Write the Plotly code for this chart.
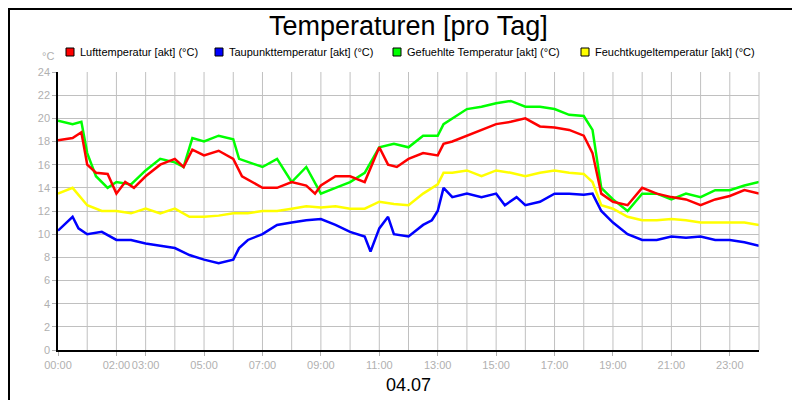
import plotly.graph_objects as go

hours_red = [0,0.5,0.8,1,1.3,1.7,2,2.3,2.6,3,3.5,4,4.3,4.6,5,5.5,6,6.3,7,7.5,8,8.5,8.8,9,9.5,10,10.5,11,11.3,11.6,12,12.5,13,13.2,13.5,14,14.5,15,15.5,16,16.5,17,17.5,18,18.3,18.6,19,19.5,20,20.5,21,21.5,22,22.5,23,23.5,24]
luft = [18.1,18.3,18.8,16,15.3,15.2,13.5,14.5,14,15,16,16.5,15.8,17.3,16.8,17.2,16.5,15,14,14,14.5,14.2,13.5,14.2,15,15,14.5,17.5,16,15.8,16.5,17,16.8,17.8,18,18.5,19,19.5,19.7,20,19.3,19.2,19,18.5,17,13.5,12.8,12.5,14,13.5,13.2,13,12.5,13,13.3,13.8,13.5]

hours_green = [0,0.5,0.8,1,1.3,1.7,2,2.5,3,3.5,4,4.3,4.6,5,5.5,6,6.2,7,7.5,8,8.5,9,9.5,10,10.5,11,11.5,12,12.5,13,13.2,13.5,14,14.5,15,15.5,16,16.5,17,17.5,18,18.3,18.6,19,19.5,20,20.5,21,21.5,22,22.5,23,23.5,24]
gefuehlt = [19.8,19.5,19.7,17,15,14,14.5,14.3,15.5,16.5,16.2,15.8,18.3,18,18.5,18.2,16.5,15.8,16.5,14.5,15.8,13.5,14,14.5,15.3,17.5,17.8,17.5,18.5,18.5,19.5,20,20.8,21,21.3,21.5,21,21,20.8,20.3,20.2,19,14,13,12,13.5,13.5,13,13.5,13.2,13.8,13.8,14.2,14.5]

hours_yellow = [0,0.5,1,1.5,2,2.5,3,3.5,4,4.5,5,5.5,6,6.5,7,7.5,8,8.5,9,9.5,10,10.5,11,11.5,12,12.5,13,13.2,13.5,14,14.5,15,15.5,16,16.5,17,17.5,18,18.3,18.6,19,19.5,20,20.5,21,21.5,22,22.5,23,23.5,24]
feucht = [13.5,14,12.5,12,12,11.8,12.2,11.8,12.2,11.5,11.5,11.6,11.8,11.8,12,12,12.2,12.4,12.3,12.4,12.2,12.2,12.8,12.6,12.5,13.5,14.3,15.3,15.3,15.5,15,15.5,15.3,15,15.3,15.5,15.3,15.2,14.5,12.5,12.2,11.5,11.2,11.2,11.3,11.2,11,11,11,11,10.8]

hours_blue = [0,0.5,0.7,1,1.5,2,2.5,3,3.5,4,4.5,5,5.5,6,6.2,6.5,7,7.5,8,8.5,9,9.5,10,10.5,10.7,11,11.3,11.5,12,12.5,12.8,13,13.2,13.5,14,14.5,15,15.3,15.7,16,16.5,17,17.5,18,18.3,18.6,19,19.5,20,20.5,21,21.5,22,22.5,23,23.5,24]
taupunkt = [10.3,11.5,10.5,10,10.2,9.5,9.5,9.2,9,8.8,8.2,7.8,7.5,7.8,8.8,9.5,10,10.8,11,11.2,11.3,10.8,10.2,9.8,8.5,10.5,11.5,10,9.8,10.8,11.2,12,14,13.2,13.5,13.2,13.5,12.5,13.2,12.5,12.8,13.5,13.5,13.4,13.5,12,11,10,9.5,9.5,9.8,9.7,9.8,9.5,9.5,9.3,9]

tick_vals = [0,2,3,5,7,9,11,13,15,17,19,21,23]
tick_text = ["00:00","02:00","03:00","05:00","07:00","09:00","11:00","13:00","15:00","17:00","19:00","21:00","23:00"]

series = [
    ("Lufttemperatur [akt] (°C)", hours_red, luft, "#ff0000"),
    ("Taupunkttemperatur [akt] (°C)", hours_blue, taupunkt, "#0000ff"),
    ("Gefuehlte Temperatur [akt] (°C)", hours_green, gefuehlt, "#00ff00"),
    ("Feuchtkugeltemperatur [akt] (°C)", hours_yellow, feucht, "#ffff00"),
]

L, T, W, H = 50, 64, 701, 278
def px(x): return (x - L) / W
def py(y): return (T + H - y) / H

fig = go.Figure()
for idx in [3, 2, 0, 1]:
    name, x, y, c = series[idx]
    fig.add_trace(go.Scatter(x=x, y=y, mode="lines", name=name, line=dict(color=c, width=2.5)))

legend_x = [62, 211, 389, 577]
shapes = [dict(type="rect", xref="paper", yref="paper", x0=px(1), x1=px(798), y0=py(398), y1=py(1),
               line=dict(color="black", width=2)),
          dict(type="line", xref="paper", yref="paper", x0=1, x1=1, y0=0, y1=1,
               line=dict(color="#c0c0c0", width=1))]
shapes += [dict(type="line", xref="x", yref="paper", x0=h, x1=h, y0=0, y1=1, layer="below",
                line=dict(color="#c0c0c0", width=1)) for h in range(1, 24)]
annotations = [
    dict(text="Temperaturen [pro Tag]", x=0.5, xref="paper", y=py(18), yref="paper", showarrow=False,
         yanchor="middle", font=dict(size=27)),
    dict(text="04.07", x=px(400), xref="paper", y=py(377), yref="paper", showarrow=False,
         yanchor="middle", font=dict(size=18)),
    dict(text="°C", x=px(48), xref="paper", y=py(48), yref="paper", showarrow=False, xanchor="right",
         yanchor="middle", font=dict(size=11, color="#b0b0b0")),
]
for (name, _, _, c), lx in zip(series, legend_x):
    shapes.append(dict(type="rect", xref="paper", yref="paper", x0=px(lx - 4), x1=px(lx + 4),
                       y0=py(48), y1=py(40), fillcolor=c, line=dict(color="black", width=1)))
    annotations.append(dict(text=name, x=px(lx + 8), xref="paper", y=py(44), yref="paper", showarrow=False,
                            xanchor="left", yanchor="middle", font=dict(size=11)))

fig.update_layout(
    width=800, height=400, margin=dict(l=L, r=800 - L - W, t=T, b=400 - T - H, autoexpand=False),
    paper_bgcolor="white", plot_bgcolor="white", showlegend=False,
    font=dict(family="Liberation Sans, Arial", color="black"),
    xaxis=dict(range=[0, 24], tickvals=tick_vals, ticktext=tick_text, showgrid=False, tickangle=0,
               automargin=False, tickfont=dict(size=11, color="#b0b0b0"), showline=True, linecolor="black",
               linewidth=1.5, ticks="outside", ticklen=4, tickcolor="#b0b0b0", zeroline=False),
    yaxis=dict(range=[0, 24], dtick=2, gridcolor="#c0c0c0", gridwidth=1, automargin=False,
               tickfont=dict(size=11, color="#b0b0b0"), showline=True, linecolor="black", linewidth=1.5,
               ticks="outside", ticklen=4, tickcolor="#b0b0b0", zeroline=False),
    shapes=shapes, annotations=annotations,
)
fig.write_html("out.html")
